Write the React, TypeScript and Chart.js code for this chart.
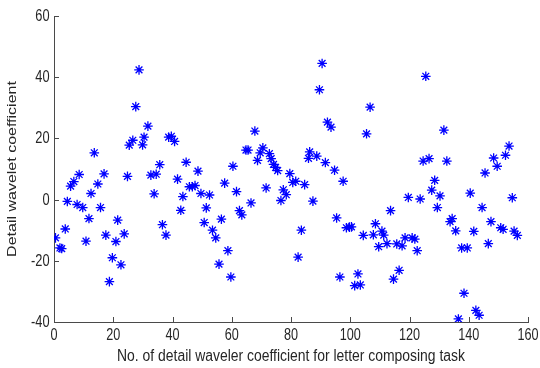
import React, { useEffect, useRef } from "react";
import { Chart, registerables } from "chart.js";

Chart.register(...registerables);

const xValues: number[] = [
  0.5, 2.0, 2.6, 3.8, 4.5, 5.6, 6.7, 7.8, 8.5, 9.7,
  10.8, 11.8, 12.5, 13.6, 14.8, 15.7, 16.9, 17.5, 18.7, 19.7,
  20.9, 21.5, 22.6, 23.7, 24.8, 25.4, 26.6, 27.6, 28.7, 29.9,
  30.4, 31.7, 32.7, 33.8, 34.5, 35.7, 36.6, 37.8, 38.7, 39.6,
  40.7, 41.7, 42.8, 43.5, 44.6, 45.7, 46.7, 47.6, 48.6, 49.6,
  50.7, 51.4, 52.5, 53.5, 54.6, 55.7, 56.5, 57.6, 58.7, 59.7,
  60.4, 61.6, 62.6, 63.4, 64.8, 65.5, 66.5, 67.8, 68.7, 69.6,
  70.5, 71.6, 72.7, 73.3, 74.1, 74.8, 75.5, 76.6, 77.4, 78.4,
  79.6, 80.6, 81.6, 82.4, 83.5, 84.6, 85.9, 86.3, 87.4, 88.7,
  89.6, 90.5, 91.6, 92.3, 93.5, 94.7, 95.4, 96.5, 97.6, 98.7,
  99.7, 100.4, 101.5, 102.6, 103.4, 104.4, 105.5, 106.7, 107.8, 108.5,
  109.6, 110.7, 111.3, 112.4, 113.6, 114.6, 115.7, 116.5, 117.5, 118.5,
  119.6, 120.9, 121.8, 122.6, 123.6, 124.6, 125.5, 126.6, 127.5, 128.5,
  129.4, 130.3, 131.6, 132.6, 133.7, 134.4, 135.6, 136.5, 137.6, 138.4,
  139.5, 140.5, 141.7, 142.4, 143.5, 144.5, 145.5, 146.6, 147.5, 148.4,
  149.6, 150.8, 151.6, 152.4, 153.6, 154.7, 155.3, 156.4,
];

const yValues: number[] = [
  -12.5, -15.8, -16.0, -9.6, -0.6, 4.4, 5.9, -1.6, 8.2, -2.6,
  -13.6, -6.2, 2.0, 15.3, 5.1, -2.6, 8.4, -11.6, -26.8, -19.0,
  -13.7, -6.7, -21.3, -11.2, 7.6, 17.8, 19.4, 30.4, 42.4, 17.9,
  20.4, 24.0, 8.0, 1.9, 8.3, 11.4, -8.2, -11.6, 20.4, 20.7,
  19.0, 6.7, -3.5, 1.0, 12.2, 4.2, 4.2, 4.6, 9.3, 2.0,
  -7.5, -2.7, 1.5, -10.0, -12.5, -21.1, -6.4, 5.4, -16.7, -25.3,
  10.9, 2.6, -3.6, -5.0, 16.2, 16.2, -1.1, 22.4, 12.8, 15.3,
  16.9, 3.8, 15.0, 13.4, 11.5, 10.5, 9.5, -0.3, 3.2, 1.6,
  8.5, 5.6, 6.0, -18.8, -10.0, 4.9, 13.5, 15.6, -0.5, 14.2,
  35.9, 44.5, 12.1, 25.3, 23.7, 9.6, -6.0, -25.3, 6.0, -9.2,
  -9.0, -8.9, -28.1, -24.3, -27.9, -11.7, 21.5, 30.2, -11.5, -7.9,
  -15.4, -10.3, -11.6, -14.4, -3.6, -26.0, -14.5, -23.1, -15.1, -12.5,
  0.7, -12.5, -12.9, -16.7, 0.2, 12.6, 40.3, 13.4, 3.1, 6.3,
  -2.6, 1.2, 22.7, 12.6, -7.2, -6.2, -10.2, -39.0, -15.8, -30.6,
  -15.8, 2.1, -10.4, -36.2, -37.8, -2.6, 8.7, -14.4, -7.2, 13.6,
  10.9, -9.2, -9.7, 14.5, 17.5, 0.6, -10.3, -11.7,
];

const xTicks: number[] = [0, 20, 40, 60, 80, 100, 120, 140, 160];
const yTicks: number[] = [-40, -20, 0, 20, 40, 60];

const xTitle = "No. of detail waveler coefficient for letter composing task";
const yTitle = "Detail wavelet coefficient";

const FONT = "'Liberation Sans', Arial, sans-serif";
const AXIS_COLOR = "#4a4a4a";
const TEXT_COLOR = "#262626";

// Draws inward tick marks plus horizontally condensed tick labels and titles
const axisDecor = {
  id: "axisDecor",
  afterDraw(chart: any) {
    const { ctx, chartArea, scales } = chart;
    const xs = scales.x;
    const ys = scales.y;
    ctx.save();
    ctx.strokeStyle = AXIS_COLOR;
    ctx.lineWidth = 1;
    ctx.beginPath();
    xTicks.forEach((v) => {
      const px = Math.round(xs.getPixelForValue(v)) + 0.5;
      ctx.moveTo(px, chartArea.bottom);
      ctx.lineTo(px, chartArea.bottom - 5);
    });
    yTicks.forEach((v) => {
      const py = Math.round(ys.getPixelForValue(v)) + 0.5;
      ctx.moveTo(chartArea.left, py);
      ctx.lineTo(chartArea.left + 5, py);
    });
    ctx.stroke();

    ctx.fillStyle = TEXT_COLOR;
    ctx.font = `16px ${FONT}`;
    ctx.textBaseline = "middle";

    // x tick labels
    ctx.textAlign = "center";
    xTicks.forEach((v) => {
      const px = xs.getPixelForValue(v);
      ctx.save();
      ctx.translate(px, chartArea.bottom + 14);
      ctx.scale(0.79, 1);
      ctx.fillText(String(v), 0, 0);
      ctx.restore();
    });

    // y tick labels
    ctx.textAlign = "right";
    yTicks.forEach((v) => {
      const py = ys.getPixelForValue(v);
      ctx.save();
      ctx.translate(chartArea.left - 4.5, py + 0.5);
      ctx.scale(0.8, 1);
      ctx.fillText(String(v), 0, 0);
      ctx.restore();
    });

    // x title
    ctx.textAlign = "center";
    ctx.save();
    ctx.translate((chartArea.left + chartArea.right) / 2, 356.5);
    ctx.scale(0.87, 1);
    ctx.fillText(xTitle, 0, 0);
    ctx.restore();

    // y title
    ctx.save();
    ctx.translate(12.5, (chartArea.top + chartArea.bottom) / 2);
    ctx.rotate(-Math.PI / 2);
    ctx.scale(1, 0.82);
    ctx.fillText(yTitle, 0, 0);
    ctx.restore();

    ctx.restore();
  },
};

export default function App() {
  const canvasRef = useRef<HTMLCanvasElement | null>(null);

  useEffect(() => {
    if (!canvasRef.current) return;
    const points = xValues.map((x, i) => ({ x, y: yValues[i] }));
    const chart = new Chart(canvasRef.current, {
      type: "scatter",
      data: {
        datasets: [
          {
            data: points,
            pointStyle: "star",
            radius: 4.8,
            borderColor: "#0000ff",
            backgroundColor: "#0000ff",
            borderWidth: 1.3,
          },
        ],
      },
      options: {
        animation: false,
        responsive: false,
        maintainAspectRatio: false,
        layout: { padding: { top: 16, right: 12, left: 0, bottom: 0 } },
        plugins: {
          legend: { display: false },
          tooltip: { enabled: false },
        },
        scales: {
          x: {
            type: "linear",
            min: 0,
            max: 160,
            afterBuildTicks: (scale: any) => {
              scale.ticks = xTicks.map((v) => ({ value: v }));
            },
            afterFit: (scale: any) => {
              scale.height = 46;
            },
            grid: { display: false, drawTicks: false },
            border: { display: true, color: AXIS_COLOR, width: 1 },
            ticks: { display: false },
            title: { display: false, text: xTitle },
          },
          y: {
            type: "linear",
            min: -40,
            max: 60,
            afterBuildTicks: (scale: any) => {
              scale.ticks = yTicks.map((v) => ({ value: v }));
            },
            afterFit: (scale: any) => {
              scale.width = 54;
            },
            grid: { display: false, drawTicks: false },
            border: { display: true, color: AXIS_COLOR, width: 1 },
            ticks: { display: false },
            title: { display: false, text: yTitle },
          },
        },
      },
      plugins: [axisDecor],
    });
    return () => chart.destroy();
  }, []);

  return (
    <div style={{ position: "fixed", left: 0, top: 0, width: 540, height: 368, background: "#fff" }}>
      <canvas ref={canvasRef} width={540} height={368} style={{ display: "block", width: 540, height: 368 }} />
    </div>
  );
}
